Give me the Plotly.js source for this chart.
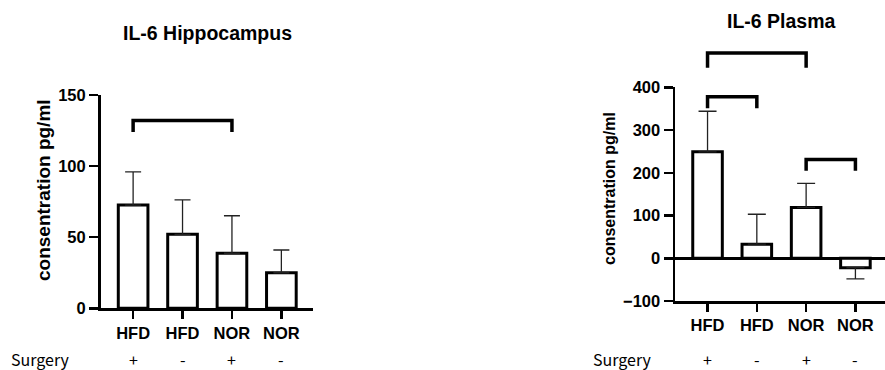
<!DOCTYPE html>
<html>
<head>
<meta charset="utf-8">
<script src="https://cdn.plot.ly/plotly-3.0.1.min.js"></script>
<style>
  html, body { margin: 0; padding: 0; background: #ffffff; }
  #chart { width: 885px; height: 370px; }
</style>
</head>
<body>
<div id="chart"></div>
<script>
// ---- data ----
const xPos = [0, 1, 2, 3];
const groupLabels = ['HFD', 'HFD', 'NOR', 'NOR'];
const surgery = ['+', '-', '+', '-'];

const hippoMean = [72.6, 52, 38.7, 25];
const hippoSD = [23.4, 24.2, 26.4, 16];

const plasmaMean = [249, 33, 119, -22];
const plasmaSD = [95, 70, 56, 26];

// significance brackets (bar index from/to, top and leg-end values)
const hippoBracketFrom = [0];
const hippoBracketTo = [2];
const hippoBracketTop = [132];
const hippoBracketEnd = [124];

const plasmaBracketFrom = [0, 0, 2];
const plasmaBracketTo = [2, 1, 3];
const plasmaBracketTop = [480, 378, 231];
const plasmaBracketEnd = [446, 351, 205];

// ---- styles ----
const FONT = 'Arial, "Liberation Sans", sans-serif';
const JFONT = '"Noto Sans CJK JP", "Noto Sans", sans-serif';
const W = 885, H = 370;

const hippoYDomain = [1 - 308.3 / H, 1 - 95 / H];
const hippoYRange = [0, 150];
const plasmaYDomain = [1 - 301 / H, 1 - 87.3 / H];
const plasmaYRange = [-100, 400];

// Invisible companion axes with the same scale but taller domain, so brackets above the
// axis range are drawn through the library's axes without being clipped.
function extendedRange(domain, range) {
  const top = 1;
  const perDom = (range[1] - range[0]) / (domain[1] - domain[0]);
  return [range[0], range[0] + perDom * (top - domain[0])];
}

function barTrace(mean, sd, xa, ya, capw) {
  return {
    type: 'bar', x: xPos, y: mean, xaxis: xa, yaxis: ya,
    width: 0.6,
    marker: { color: '#ffffff', line: { color: '#000000', width: 3 } },
    error_y: {
      type: 'data', symmetric: false,
      array: mean.map((m, i) => m >= 0 ? sd[i] : 0),
      arrayminus: mean.map((m, i) => m < 0 ? sd[i] : 0),
      color: '#222222', thickness: 1.3, width: capw
    },
    hoverinfo: 'skip', showlegend: false
  };
}

function bracketTraces(from, to, top, end, xa, ya) {
  return from.map((f, i) => ({
    type: 'scatter', mode: 'lines', xaxis: xa, yaxis: ya,
    x: [f, f, to[i], to[i]],
    y: [end[i], top[i], top[i], end[i]],
    line: { color: '#000000', width: 3.5 },
    cliponaxis: false, hoverinfo: 'skip', showlegend: false
  }));
}

const data = [
  barTrace(hippoMean, hippoSD, 'x', 'y', 8),
  barTrace(plasmaMean, plasmaSD, 'x2', 'y2', 9),
  ...bracketTraces(hippoBracketFrom, hippoBracketTo, hippoBracketTop, hippoBracketEnd, 'x', 'y3'),
  ...bracketTraces(plasmaBracketFrom, plasmaBracketTo, plasmaBracketTop, plasmaBracketEnd, 'x2', 'y4')
];

const axisCommon = {
  showline: true, linecolor: '#000000', linewidth: 2.5,
  ticks: 'outside', tickcolor: '#000000', tickwidth: 2.5,
  showgrid: false, fixedrange: true,
  tickfont: { family: FONT, size: 16.5, color: '#000000', weight: 'bold' }
};

const hiddenAxis = { visible: false, showgrid: false, zeroline: false, fixedrange: true };

const layout = {
  width: W, height: H,
  margin: { l: 0, r: 0, t: 0, b: 0 },
  paper_bgcolor: '#ffffff', plot_bgcolor: 'rgba(0,0,0,0)',
  bargap: 0,
  xaxis: Object.assign({}, axisCommon, {
    domain: [100.5 / W, 313 / W], range: [-0.66, 3.64],
    tickvals: xPos, ticktext: groupLabels, ticklen: 8, zeroline: false,
    anchor: 'y'
  }),
  yaxis: Object.assign({}, axisCommon, {
    domain: hippoYDomain, range: hippoYRange,
    tickvals: [0, 50, 100, 150], ticklen: 9, zeroline: false,
    anchor: 'x'
  }),
  xaxis2: Object.assign({}, axisCommon, {
    domain: [675 / W, 1], range: [-0.66, 3.6],
    tickvals: xPos, ticktext: groupLabels, ticklen: 8, zeroline: false,
    anchor: 'y2'
  }),
  yaxis2: Object.assign({}, axisCommon, {
    domain: plasmaYDomain, range: plasmaYRange,
    tickvals: [-100, 0, 100, 200, 300, 400], ticklen: 9,
    zeroline: true, zerolinecolor: '#000000', zerolinewidth: 2.5,
    anchor: 'x2'
  }),
  yaxis3: Object.assign({}, hiddenAxis, {
    domain: [hippoYDomain[0], 1], range: extendedRange(hippoYDomain, hippoYRange), anchor: 'x'
  }),
  yaxis4: Object.assign({}, hiddenAxis, {
    domain: [plasmaYDomain[0], 1], range: extendedRange(plasmaYDomain, plasmaYRange), anchor: 'x2'
  }),
  annotations: []
};

function ann(o) {
  return Object.assign({ showarrow: false, xref: 'paper', yref: 'paper' }, o);
}

layout.annotations.push(
  ann({ x: 207 / W, y: 1 - 33 / H, xanchor: 'center', yanchor: 'middle',
        text: 'IL-6 Hippocampus', font: { family: FONT, size: 19.5, color: '#000', weight: 'bold' } }),
  ann({ x: 781.7 / W, y: 1 - 21 / H, xanchor: 'center', yanchor: 'middle',
        text: 'IL-6 Plasma', font: { family: FONT, size: 19.5, color: '#000', weight: 'bold' } }),
  ann({ x: 43 / W, y: 1 - 190 / H, xanchor: 'center', yanchor: 'middle', textangle: -90,
        text: 'consentration pg/ml', font: { family: FONT, size: 19, color: '#000', weight: 'bold' } }),
  ann({ x: 609.5 / W, y: 1 - 188.5 / H, xanchor: 'center', yanchor: 'middle', textangle: -90,
        text: 'consentration pg/ml', font: { family: FONT, size: 16, color: '#000', weight: 'bold' } }),
  ann({ x: 9 / W, y: 1 - 359 / H, xanchor: 'left', yanchor: 'middle',
        text: 'Surgery', font: { family: JFONT, size: 16, color: '#000000' } }),
  ann({ x: 590.7 / W, y: 1 - 359 / H, xanchor: 'left', yanchor: 'middle',
        text: 'Surgery', font: { family: JFONT, size: 16, color: '#000000' } })
);

surgery.forEach((s, i) => {
  layout.annotations.push(
    ann({ xref: 'x', x: xPos[i], y: 1 - 359 / H, xanchor: 'center', yanchor: 'middle',
          text: s, font: { family: JFONT, size: 16, color: '#000000' } }),
    ann({ xref: 'x2', x: xPos[i], y: 1 - 359 / H, xanchor: 'center', yanchor: 'middle',
          text: s, font: { family: JFONT, size: 16, color: '#000000' } })
  );
});

Plotly.newPlot('chart', data, layout, { displayModeBar: false, staticPlot: true });
</script>
</body>
</html>
